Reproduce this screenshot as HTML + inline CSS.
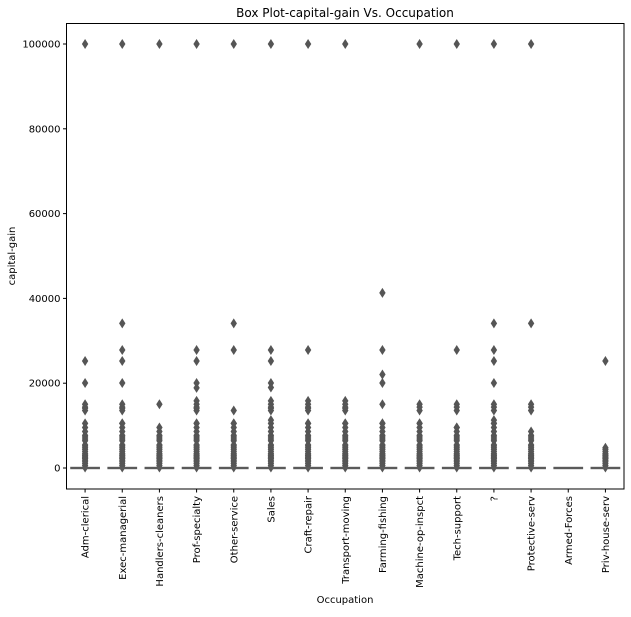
<!DOCTYPE html>
<html><head><meta charset="utf-8"><style>
body{margin:0;background:#fff;}
svg text{font-family:"DejaVu Sans","Liberation Sans",sans-serif;fill:#000;}
</style></head><body>
<svg id="chart" width="631" height="612" xmlns="http://www.w3.org/2000/svg">
<rect width="631" height="612" fill="#fff"/>
<text x="345" y="17" font-size="12" text-anchor="middle">Box Plot-capital-gain Vs. Occupation</text>
<text x="345" y="603" font-size="10" text-anchor="middle">Occupation</text>
<text transform="translate(15,256) rotate(-90)" font-size="10" text-anchor="middle">capital-gain</text>
<g id="marks"></g>
<rect x="66.5" y="23.5" width="557.5" height="465.5" fill="none" stroke="#000" stroke-width="1"/>
</svg>
<script>
const categories = ["Adm-clerical","Exec-managerial","Handlers-cleaners","Prof-specialty","Other-service","Sales","Craft-repair","Transport-moving","Farming-fishing","Machine-op-inspct","Tech-support","?","Protective-serv","Armed-Forces","Priv-house-serv"];
const yTicks = [0,20000,40000,60000,80000,100000];
const dense11 = [10520,9562,8614,7688,7298,6849,6418,5455,5178,4787,4386,3908,3464,3103,2885,2597,2354,2174,1831,1471,1055,594,114];
const outAdm = [99999,25236,20051,15024,14344,14084,13550];
const outExec = [99999,34095,27828,25236,20051,15024,14344,14084,13550,10520];
const outHand = [99999,15024,9562,8614,7688,7298,6849,6418,5455,5178,4787,4386,3908,3464,3103,2885,2597,2354,2174,1831,1471,1055,594,114];
const outProf = [99999,27828,25236,20051,18900,15831,15024,14344,14084,13550,10520];
const outOther = [99999,34095,27828,13550,10520];
const outSales = [99999,27828,25236,20051,19000,15831,15024,14344,14084,13550,11300];
const outCraft = [99999,27828,15831,15024,14344,14084,13550,10520];
const outTrans = [99999,15831,15024,14344,14084,13550,10520];
const outFarm = [41310,27828,22040,20051,15024,10520];
const outMach = [99999,15024,14344,13550,10520];
const outTech = [99999,27828,15024,14344,13550,9562];
const outQ = [99999,34095,27828,25236,20051,15024,14344,13550,11300,10520];
const outProt = [99999,34095,15024,14344,13550,8614,7688,7298,6849,6418,5455,5178,4787,4386,3908,3464,3103,2885,2597,2354,2174,1831,1471,1055,594,114];
const outArmed = [];
const outPriv = [25236,4787,4386,3908,3464,3103,2885,2597,2354,2174,1831,1471,1055,594,114];
const medians = [0,0,0,0,0,0,0,0,0,0,0,0,0,0,0];
const outliers = [outAdm.concat(dense11),outExec.concat(dense11),outHand,outProf.concat(dense11),outOther.concat(dense11),outSales.concat(dense11),outCraft.concat(dense11),outTrans.concat(dense11),outFarm.concat(dense11),outMach.concat(dense11),outTech.concat(dense11.slice(1)),outQ.concat(dense11),outProt,outArmed,outPriv];

const L=66.5,R=624,pT=23.5,pB=489;
function y(v){return 468-(v)*(424/100000);}
function x(i){return L+(R-L)/categories.length*(i+0.5);}
const NS="http://www.w3.org/2000/svg";
const g=document.getElementById('marks');
function mk(tag,attrs,parent){const e=document.createElementNS(NS,tag);for(const k in attrs)e.setAttribute(k,attrs[k]);(parent||g).appendChild(e);return e;}
yTicks.forEach(t=>{
  const tk=mk('line',{x1:L-3.5,x2:L,y1:y(t),y2:y(t),stroke:'#000','stroke-width':1});
  
  
  const tx=mk('text',{x:L-6,y:y(t)+3.5,'font-size':10,'text-anchor':'end'});
  tx.textContent=String(t);
  
  
});
const bw=(R-L)/categories.length*0.8;
categories.forEach((c,i)=>{
  const cx=x(i);
  const tk=mk('line',{x1:cx,x2:cx,y1:pB,y2:pB+3.5,stroke:'#000','stroke-width':1});
  
  
  const tx=mk('text',{transform:`translate(${cx+3.5},${pB+7}) rotate(-90)`,'font-size':10,'text-anchor':'end'});
  tx.textContent=c;
  
  
  outliers[i].forEach(v=>{
    const cy=y(v);
    const d=mk('path',{d:`M${cx},${cy-5}L${cx+3.2},${cy}L${cx},${cy+5}L${cx-3.2},${cy}Z`,fill:'#555'});
    
    
  });
  const b=mk('rect',{x:cx-bw/2,y:y(medians[i])-1.2,width:bw,height:2.4,fill:'#5a5a5a'});
  
  
});
</script>
</body></html>
